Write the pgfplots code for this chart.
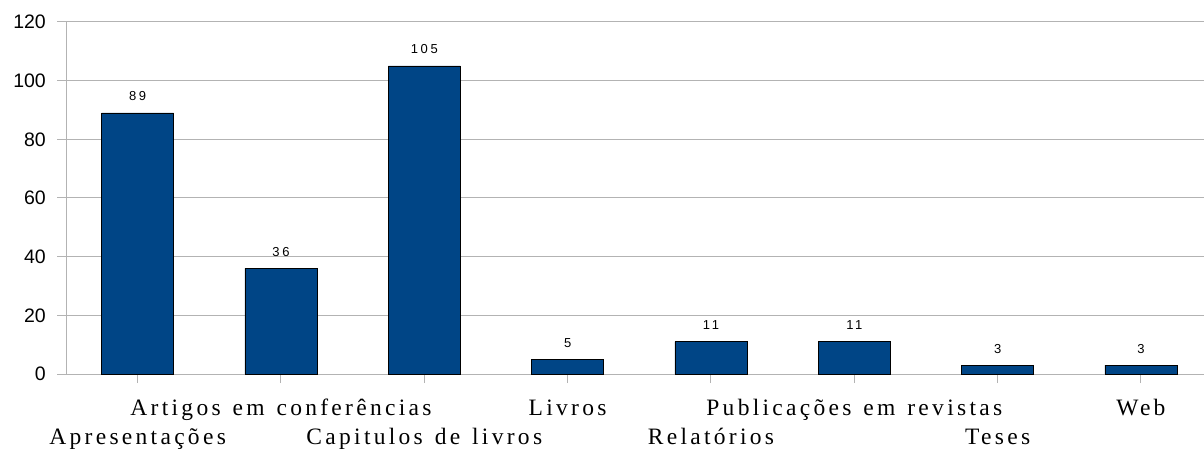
\documentclass[border=0pt]{standalone}
\usepackage{fontspec}
\setmainfont{Liberation Sans}
\newfontfamily\catfont[LetterSpace=14,WordSpace=1.3]{Liberation Serif}
\newfontfamily\valfont[LetterSpace=20]{Liberation Sans}
\usepackage{pgfplots}
\pgfplotsset{compat=1.18}
\definecolor{barblue}{HTML}{004586}
\definecolor{gridgray}{HTML}{B3B3B3}
\begin{document}
\begin{tikzpicture}[x=1pt,y=1pt]
\path[use as bounding box] (0,0) rectangle (1204,450);
\begin{axis}[
  at={(66pt,76pt)}, anchor=south west,
  scale only axis, width=1138pt, height=352pt,
  xmin=-0.5, xmax=7.44, ymin=0, ymax=120,
  ytick={0,20,...,120},
  axis x line*=bottom, axis y line*=left,
  axis line style={gridgray, line width=1pt},
  ymajorgrids, grid style={gridgray, line width=1pt},
  tick align=outside, major tick length=9pt,
  tick style={gridgray, line width=1pt},
  /pgf/number format/assume math mode=true,
  yticklabel style={font=\fontsize{19.5}{22}\selectfont, anchor=east, inner sep=0pt, xshift=-11pt},
  xtick={1,3,5,7},
  xticklabels={Artigos em conferências, Livros, Publicações em revistas, Web},
  extra x ticks={0,2,4,6},
  extra x tick labels={Apresentações, Capitulos de livros, Relatórios, Teses},
  extra x tick style={xticklabel style={yshift=-29pt}},
  xticklabel style={font=\catfont\fontsize{23.5}{26}\selectfont, anchor=base, inner sep=0pt, yshift=-32pt},
  ybar, bar width=72pt,
  nodes near coords,
  nodes near coords style={font=\valfont\fontsize{13}{15}\selectfont, anchor=base, inner sep=0pt, yshift=12pt, text=black},
]
\addplot[fill=barblue, draw=black, line width=0.8pt] coordinates {
  (0,89) (1,36) (2,105) (3,5) (4,11) (5,11) (6,3) (7,3)
};
\end{axis}
\end{tikzpicture}
\end{document}
